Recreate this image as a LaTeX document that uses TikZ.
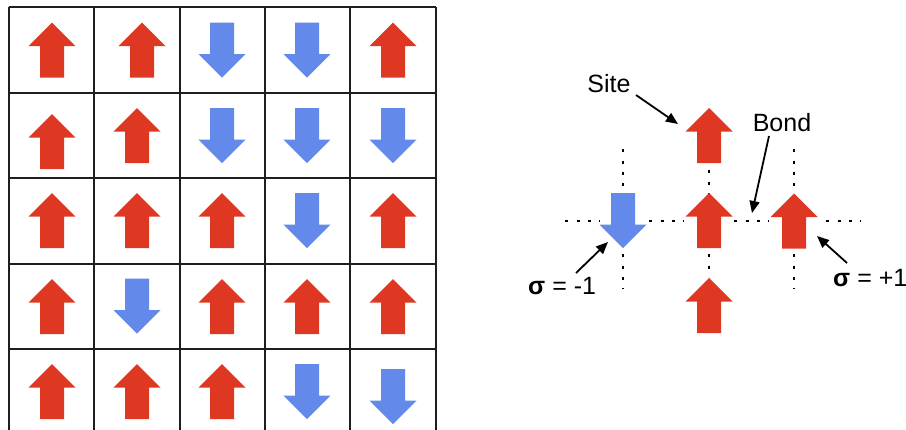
\documentclass[tikz,border=0pt]{standalone}
\usepackage{fontspec}
\setmainfont{Liberation Sans}
\usetikzlibrary{arrows.meta}
\definecolor{spinred}{RGB}{222,56,35}
\definecolor{spinblue}{RGB}{99,137,235}
\definecolor{gridcol}{RGB}{30,30,30}
\tikzset{
  spinup/.pic={\fill[spinred] (0,-27.5) -- (23.5,-4) -- (12,-4) -- (12,27.5) -- (-12,27.5) -- (-12,-4) -- (-23.5,-4) -- cycle;},
  spindown/.pic={\fill[spinblue] (0,27.5) -- (23.5,4) -- (12,4) -- (12,-27.5) -- (-12,-27.5) -- (-12,4) -- (-23.5,4) -- cycle;},
  gridline/.style={line width=2pt, draw=gridcol},
  bonddots/.style={line width=2.8pt, dash pattern=on 2.8pt off 8.5pt, dash phase=-1.4pt, line cap=butt},
  note/.style={-{Triangle[length=12pt,width=10pt]}, line width=1.8pt},
  lbl/.style={inner sep=0pt, font=\fontsize{25}{30}\selectfont}
}
\begin{document}
\begin{tikzpicture}[x=1pt,y=-1pt]
\clip (0,0) rectangle (906,429);
\fill[white] (0,0) rectangle (906,429);
% lattice grid
\foreach \gx in {8.5,94,179.5,265,350,435.5} \draw[gridline] (\gx,7) -- (\gx,440);
\foreach \gy in {7,93,178,263.5,349,434.5} \draw[gridline] (8.5,\gy) -- (435.5,\gy);
% row 1
\pic at (52,50) {spinup};
\pic at (142,50) {spinup};
\pic at (222,50) {spindown};
\pic at (307,50) {spindown};
\pic at (393,50) {spinup};
% row 2
\pic at (52,141.5) {spinup};
\pic at (137,135.5) {spinup};
\pic at (222,135.5) {spindown};
\pic at (307,135.5) {spindown};
\pic at (393,135.5) {spindown};
% row 3
\pic at (52,220.5) {spinup};
\pic at (137,220.5) {spinup};
\pic at (222,220.5) {spinup};
\pic at (307,220.5) {spindown};
\pic at (393,220.5) {spinup};
% row 4
\pic at (52,306.5) {spinup};
\pic at (137,306) {spindown};
\pic at (222,306.5) {spinup};
\pic at (307,306.5) {spinup};
\pic at (393,306.5) {spinup};
% row 5
\pic at (52,391.5) {spinup};
\pic at (137,391.5) {spinup};
\pic at (222,391.5) {spinup};
\pic at (307,391.5) {spindown};
\pic at (393,396.5) {spindown};

% right diagram: bonds
\draw[bonddots] (623,148) -- (623,194);
\draw[bonddots] (623,253) -- (623,289);
\draw[bonddots] (709,169) -- (709,194);
\draw[bonddots] (709,253) -- (709,277);
\draw[bonddots] (794,148) -- (794,193);
\draw[bonddots] (794,253) -- (794,289);
\draw[bonddots] (564,221) -- (600,221);
\draw[bonddots] (648,221) -- (684,221);
\draw[bonddots] (733,221) -- (769,221);
\draw[bonddots] (825,221) -- (861,221);
% sites
\pic (stop) at (709,135.5) {spinup};
\pic (sleft) at (623,220.5) {spindown};
\pic (smid) at (709,220.5) {spinup};
\pic (sright) at (794,221) {spinup};
\pic (sbot) at (709,305.5) {spinup};
% labels
\node[lbl, anchor=base] (site) at (609,92) {Site};
\node[lbl, anchor=base] (bond) at (782,131) {Bond};
\node[lbl, anchor=base west] (sminus) at (528,294) {{\bfseries σ} = -1};
\node[lbl, anchor=base west] (splus) at (833,286) {{\bfseries σ} = +1};
% annotation arrows
\coordinate (sitefrom) at (636,95);
\coordinate (siteto) at (678,124);
\coordinate (bondfrom) at (769,136);
\coordinate (bondto) at (752,213);
\coordinate (smfrom) at (576,273);
\coordinate (smto) at (608,242);
\coordinate (spfrom) at (847,263);
\coordinate (spto) at (817,236);
\draw[note] (sitefrom) -- (siteto);
\draw[note] (bondfrom) -- (bondto);
\draw[note] (smfrom) -- (smto);
\draw[note] (spfrom) -- (spto);
\end{tikzpicture}
\end{document}
